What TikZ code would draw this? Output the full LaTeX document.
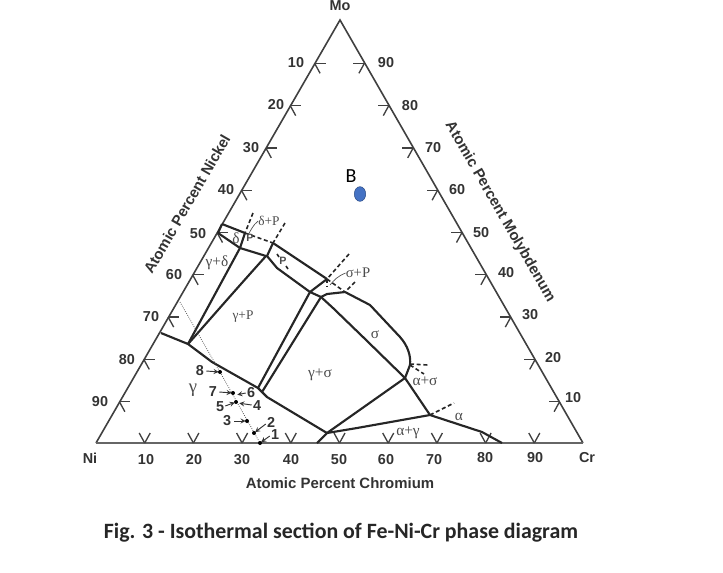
\documentclass[tikz,border=0pt]{standalone}
\usepackage{fontspec}
\setmainfont{Liberation Sans}
\newfontfamily\phasefont{Liberation Serif}
\newfontfamily\capfont{Carlito}
\definecolor{ptblue}{HTML}{4472C4}
\usetikzlibrary{shapes,arrows,positioning}

\begin{document}
\begin{tikzpicture}[
		x=0.75pt, y=-0.75pt,
		axis/.style={draw=black!75, line width=1.2pt, line join=miter},
		tick/.style={draw=black!75, line width=1pt},
		phase/.style={draw=black!85, line width=1.6pt, line join=round},
		bound/.style={draw=black!85, line width=1.2pt, densely dashed},
		leader/.style={->,>=stealth, draw=black!80, line width=0.7pt, shorten >=1pt, shorten <=0pt},
		num/.style={font=\bfseries\fontsize{10.8}{11}\selectfont, text=black!80, inner sep=0pt},
		ttl/.style={font=\bfseries\fontsize{11.2}{12}\selectfont, text=black!80, inner sep=0pt},
		region/.style={font=\phasefont\fontsize{11.5}{12}\selectfont, text=black!70, inner sep=0pt},
		small region/.style={font=\phasefont\fontsize{10}{10}\selectfont, text=black!70, inner sep=0pt},
		pmark/.style={font=\bfseries\fontsize{8}{8}\selectfont, text=black!70, inner sep=0pt},
		spot/.style={circle, fill=black, inner sep=0pt, minimum size=3pt}
		]
		\useasboundingbox (0,0) rectangle (723,572);
		
		% Triangle
		\coordinate (mo) at (340,20);
		\coordinate (ni) at (96,443);
		\coordinate (cr) at (583,443);
		\draw[axis] (ni) -- (mo) -- (cr);
		\draw[axis, line width=1.9pt, draw=black!60] (ni) -- (cr);
		\node[num] (molabel) at (340,6) {Mo};
		\node[num] (nilabel) at (90,458) {Ni};
		\node[num] (crlabel) at (587,458) {Cr};
		
		% Ticks and numbers
		\foreach \k/\lx/\ly in {1/296/63,2/276/105,3/251/148,4/226/190,5/198/234,6/174/275,7/151/317,8/127/360,9/100/402}{
			\pgfmathtruncatemacro{\val}{\k*10}
			\coordinate (lt\k) at ({339-24.4*\k},{21+42.3*\k});
			\draw[tick] (lt\k) -- ++(11,0);
			\draw[tick] (lt\k) -- ++(5.5,10);
			\node[num] (ln\k) at (\lx,\ly) {\val};
		}
		\foreach \k/\lx/\ly in {1/386/63,2/410/106,3/433/148,4/457/190,5/481/233,6/506/273,7/530/315,8/553/358,9/573/398}{
			\pgfmathtruncatemacro{\val}{100-\k*10}
			\coordinate (rt\k) at ({340+24.4*\k},{21+42.3*\k});
			\draw[tick] (rt\k) -- ++(-11,0);
			\draw[tick] (rt\k) -- ++(-5.5,10);
			\node[num] (rn\k) at (\lx,\ly) {\val};
		}
		\foreach \k/\lx/\ly in {1/146/460,2/194/460,3/242/460,4/291/460,5/339/460,6/386/460,7/434/460,8/485/458,9/535/458}{
			\pgfmathtruncatemacro{\val}{\k*10}
			\coordinate (bt\k) at ({96+48.7*\k},443);
			\draw[tick] (bt\k) -- ++(-5.5,-10);
			\draw[tick] (bt\k) -- ++(5.5,-10);
			\node[num] (bn\k) at (\lx,\ly) {\val};
		}
		
		% Axis titles
		\node[ttl, rotate=60] (nickel) at (187,204) {Atomic Percent Nickel};
		\node[ttl, rotate=-60] (moly) at (500,212) {Atomic Percent Molybdenum};
		\node[ttl] (chrom) at (340,483) {Atomic Percent Chromium};
		
		% Junctions
		\coordinate (a) at (222,224);
		\coordinate (b) at (245,233);
		\coordinate (c) at (273,243);
		\coordinate (d) at (327,279);
		\coordinate (e) at (345,292);
		\coordinate (f) at (405,378);
		\coordinate (g) at (218,233);
		\coordinate (h) at (240,248);
		\coordinate (i) at (266,256);
		\coordinate (j) at (310,292);
		\coordinate (k) at (321,297);
		\coordinate (l) at (188,344);
		\coordinate (m) at (161,333);
		\coordinate (n) at (258,388);
		\coordinate (o) at (262,392);
		\coordinate (p) at (327,433);
		\coordinate (q) at (317,443);
		\coordinate (r) at (430,415);
		\coordinate (s) at (502,443);
		
		% Phase boundaries
		\draw[phase] (a) -- (b);
		\draw[phase] (c) -- (d);
		\draw[phase] (a) -- (g);
		\draw[phase] (g) -- (h) -- (i);
		\draw[phase] (b) -- (h) -- (l);
		\draw[phase] (i) .. controls (230,296) and (205,325) .. (l);
		\draw[phase] (c) -- (267,256) -- (277,268) -- (j);
		\draw[phase] (d) -- (j) -- (k);
		\draw[phase] (j) -- (n);
		\draw[phase] (k) -- (o);
		\draw[phase] (k) -- (327,294) -- (e);
		\draw[phase] (e) -- (370,305) -- (400,337) .. controls (408,346) and (411,356) .. (410,365) -- (f);
		\draw[phase] (k) -- (333,308) -- (363,337) -- (f);
		\draw[phase] (m) -- (l) -- (212,362) -- (n) -- (267,397) -- (p);
		\draw[phase] (p) -- (f) -- (r);
		\draw[phase] (q) -- (p) -- (357,428) -- (r) -- (482,432) -- (s);
		
		% Dashed boundaries
		\draw[bound] (253,213) -- (b);
		\draw[bound] (b) -- (c);
		\draw[bound] (285,223) -- (c);
		\draw[bound] (277,254) -- (279,257);
		\draw[bound] (286,266) -- (288,269);
		\draw[bound] (349,254) -- (d) -- (e);
		\draw[bound] (d) -- (327,286);
		\draw[bound] (355,282) -- (e);
		\draw[bound] (410,364) -- (428,365);
		\draw[bound] (410,365) -- (424,374);
		\draw[bound] (r) -- (454,403);
		
		% Dotted composition line
		\coordinate (c8) at (220,372);
		\coordinate (c7) at (233,393);
		\coordinate (c6) at (236,395);
		\coordinate (c5) at (236,402);
		\coordinate (c4) at (238,403);
		\coordinate (c3) at (247,421);
		\coordinate (c2) at (254,433);
		\coordinate (c1) at (260,443);
		\draw[draw=black!65, line width=0.6pt, densely dotted] (180,302) -- (c8) -- (c1);
		\foreach \c in {c8,c7,c5,c3,c2,c1}{
			\node[spot] at (\c) {};
		}
		
		% Composition numbers
		\node[num] (n8) at (200,371) {8};
		\node[num] (n7) at (213,392) {7};
		\node[num] (n6) at (251,393) {6};
		\node[num] (n5) at (220,407) {5};
		\node[num] (n4) at (257,406) {4};
		\node[num] (n3) at (227,421) {3};
		\node[num] (n2) at (271,422) {2};
		\node[num] (n1) at (275,435) {1};
		\draw[leader] (n8.east) ++(2,0) -- (c8);
		\draw[leader] (n7.east) ++(2,0) -- (c7);
		\draw[leader] (n6.west) ++(-1,0) -- (c6);
		\draw[leader] (n5.east) ++(1,-1) -- (c5);
		\draw[leader] (n4.west) ++(-1,-1) -- (c4);
		\draw[leader] (n3.east) ++(3,0) -- (c3);
		\draw[leader] (n2.west) ++(-1,2) -- (c2);
		\draw[leader] (n1.west) ++(-1,1) -- (c1);
		
		% Region labels
		\node[region, font=\phasefont\fontsize{14}{14}\selectfont] (gam) at (193,390) {γ};
		\node[region] (gamsig) at (320,375) {γ+σ};
		\node[small region] (gamp) at (243,317) {γ+P};
		\node[region] (gamdel) at (217,263) {γ+δ};
		\node[region] (del) at (236,238) {δ};
		\node[pmark] (pa) at (250,238) {P};
		\node[small region] (delp) at (269,221) {δ+P};
		\node[pmark] (pb) at (283,261) {P};
		\node[small region, font=\phasefont\fontsize{11}{11}\selectfont] (sigp) at (358,273) {σ+P};
		\node[region] (sig) at (375,335) {σ};
		\node[region] (alpsig) at (425,381) {α+σ};
		\node[region] (alp) at (459,417) {α};
		\node[region] (alpgam) at (408,433) {α+γ};
		\draw[draw=black!70, line width=0.5pt] (delp.west) .. controls (253,225) and (251,230) .. (248,235);
		\draw[draw=black!70, line width=0.5pt] (sigp.west) .. controls (338,276) and (334,280) .. (330,285);
		
		% Marked point
		\node[ellipse, draw=ptblue!70!black, fill=ptblue, line width=0.4pt, minimum width=8.5pt, minimum height=11pt, inner sep=0pt] (ptb) at (360,194) {};
		\node[font=\capfont\fontsize{15}{15}\selectfont, inner sep=0pt] (ptblabel) at (351,176) {B};
		
		% Caption
		\node[font=\capfont\bfseries\fontsize{16.4}{17}\selectfont, text=black!85, inner sep=0pt] (caption) at (341,533) {Fig. 3 - Isothermal section of Fe-Ni-Cr phase diagram};
		
	\end{tikzpicture}
\end{document}
